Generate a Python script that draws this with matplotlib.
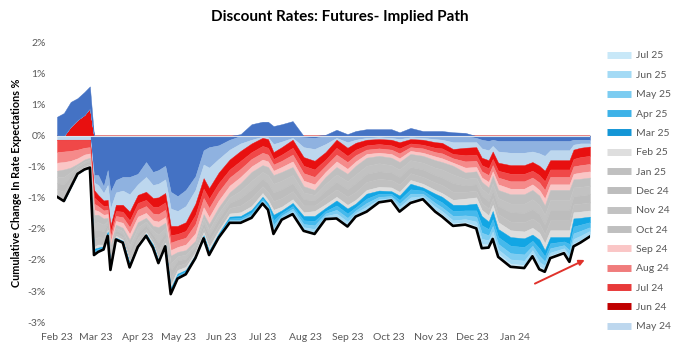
import matplotlib
matplotlib.use("Agg")
import matplotlib.pyplot as plt
import matplotlib.dates as mdates
from matplotlib.lines import Line2D
import numpy as np
import pandas as pd

plt.rcParams['font.family'] = ['Lato', 'DejaVu Sans']

# sample dates (roughly weekly, denser around the sharp moves)
dates = pd.to_datetime([
    "2023-02-01", "2023-02-06", "2023-02-11", "2023-02-16", "2023-02-21", "2023-02-25",
    "2023-02-28", "2023-03-03", "2023-03-07", "2023-03-10", "2023-03-12", "2023-03-16",
    "2023-03-21", "2023-03-26", "2023-04-01", "2023-04-07", "2023-04-12", "2023-04-16",
    "2023-04-21", "2023-04-25", "2023-04-30", "2023-05-06", "2023-05-13", "2023-05-19",
    "2023-05-23", "2023-05-30", "2023-06-07", "2023-06-15", "2023-06-23", "2023-07-01",
    "2023-07-05", "2023-07-09", "2023-07-15", "2023-07-23", "2023-07-31", "2023-08-08",
    "2023-08-16", "2023-08-24", "2023-09-01", "2023-09-07", "2023-09-15", "2023-09-24",
    "2023-10-03", "2023-10-09", "2023-10-17", "2023-10-26", "2023-11-04", "2023-11-09",
    "2023-11-17", "2023-11-26", "2023-12-04", "2023-12-08", "2023-12-13", "2023-12-16",
    "2023-12-20", "2023-12-29", "2024-01-08", "2024-01-14", "2024-01-19", "2024-01-23",
    "2024-01-27", "2024-02-06", "2024-02-10", "2024-02-13", "2024-02-18", "2024-02-25",
])

# change in rate expectations per contract, %
mar_24 = [0.31, 0.37, 0.40, 0.35, 0.37, 0.35, -0.63, -0.63, -0.81, -0.55,
          -0.90, -0.71, -0.66, -0.66, -0.61, -0.42, -0.58, -0.55, -0.48, -0.90,
          -0.97, -0.87, -0.65, -0.23, -0.18, -0.15, -0.06, 0.03, 0.19, 0.23,
          0.23, 0.16, 0.19, 0.24, -0.02, -0.03, 0.02, 0.10, 0.03, 0.08,
          0.11, 0.11, 0.11, 0.06, 0.13, 0.08, 0.08, 0.08, 0.06, 0.05,
          -0.03, -0.06, -0.08, -0.06, -0.08, -0.08, -0.08, -0.08, -0.08, -0.08,
          -0.08, -0.08, -0.08, -0.06, -0.06, -0.06]
apr_24 = [0, 0, 0, 0, 0, 0, -0.12, -0.16, -0.11, -0.24,
          -0.27, -0.20, -0.22, -0.28, -0.17, -0.24, -0.21, -0.22, -0.22, -0.27,
          -0.24, -0.26, -0.22, -0.23, -0.33, -0.22, -0.16, -0.12, -0.06, -0.01,
          -0.02, -0.13, -0.09, -0.03, -0.16, -0.18, -0.13, -0.03, -0.10, -0.06,
          -0.03, -0.02, -0.03, -0.05, -0.02, -0.03, -0.05, -0.06, -0.10, -0.10,
          -0.07, -0.14, -0.15, -0.10, -0.17, -0.19, -0.19, -0.17, -0.20, -0.24,
          -0.15, -0.15, -0.15, -0.08, -0.06, -0.06]
may_24 = [-0.06, -0.06, -0.06, -0.06, -0.06, -0.06, -0.12, -0.16, -0.12, -0.24,
          -0.28, -0.20, -0.23, -0.28, -0.17, -0.24, -0.21, -0.22, -0.22, -0.28,
          -0.24, -0.26, -0.22, -0.22, -0.33, -0.22, -0.16, -0.12, -0.06, -0.02,
          -0.03, -0.13, -0.09, -0.03, -0.16, -0.19, -0.13, -0.03, -0.09, -0.05,
          -0.03, -0.03, -0.03, -0.05, -0.03, -0.03, -0.05, -0.05, -0.11, -0.09,
          -0.08, -0.15, -0.16, -0.09, -0.18, -0.20, -0.20, -0.17, -0.20, -0.24,
          -0.16, -0.16, -0.16, -0.08, -0.07, -0.05]
jun_24 = [0, 0, 0.15, 0.26, 0.34, 0.45, -0.12, -0.10, -0.09, -0.09,
          -0.10, -0.10, -0.11, -0.14, -0.13, -0.13, -0.14, -0.15, -0.15, -0.15,
          -0.13, -0.14, -0.18, -0.17, -0.17, -0.17, -0.16, -0.16, -0.14, -0.13,
          -0.14, -0.11, -0.12, -0.13, -0.14, -0.14, -0.12, -0.13, -0.13, -0.11,
          -0.09, -0.08, -0.09, -0.10, -0.07, -0.08, -0.09, -0.09, -0.08, -0.12,
          -0.12, -0.12, -0.13, -0.12, -0.13, -0.14, -0.14, -0.14, -0.15, -0.17,
          -0.15, -0.15, -0.15, -0.15, -0.15, -0.15]
jul_24 = [-0.20, -0.19, -0.18, -0.16, -0.13, -0.12, -0.10, -0.08, -0.07, -0.07,
          -0.08, -0.08, -0.09, -0.11, -0.11, -0.10, -0.11, -0.12, -0.12, -0.12,
          -0.10, -0.11, -0.15, -0.15, -0.15, -0.14, -0.13, -0.13, -0.11, -0.11,
          -0.11, -0.09, -0.10, -0.11, -0.12, -0.12, -0.10, -0.11, -0.10, -0.09,
          -0.07, -0.07, -0.07, -0.08, -0.06, -0.06, -0.07, -0.08, -0.07, -0.10,
          -0.10, -0.10, -0.11, -0.10, -0.11, -0.12, -0.12, -0.11, -0.12, -0.14,
          -0.12, -0.12, -0.12, -0.12, -0.13, -0.13]
aug_24 = [-0.17, -0.17, -0.16, -0.14, -0.11, -0.10, -0.10, -0.08, -0.07, -0.07,
          -0.08, -0.08, -0.09, -0.11, -0.11, -0.11, -0.11, -0.12, -0.12, -0.12,
          -0.11, -0.11, -0.15, -0.15, -0.15, -0.14, -0.13, -0.13, -0.12, -0.11,
          -0.11, -0.10, -0.10, -0.11, -0.12, -0.12, -0.10, -0.11, -0.11, -0.10,
          -0.07, -0.07, -0.07, -0.08, -0.06, -0.07, -0.07, -0.08, -0.07, -0.10,
          -0.10, -0.10, -0.11, -0.10, -0.11, -0.12, -0.12, -0.11, -0.12, -0.14,
          -0.12, -0.12, -0.12, -0.12, -0.12, -0.12]
sep_24 = [-0.13, -0.12, -0.11, -0.09, -0.08, -0.07, -0.08, -0.06, -0.06, -0.06,
          -0.06, -0.06, -0.08, -0.09, -0.09, -0.08, -0.09, -0.09, -0.09, -0.09,
          -0.08, -0.09, -0.12, -0.11, -0.11, -0.11, -0.11, -0.10, -0.09, -0.09,
          -0.09, -0.07, -0.08, -0.09, -0.09, -0.09, -0.08, -0.09, -0.08, -0.07,
          -0.06, -0.05, -0.06, -0.06, -0.05, -0.05, -0.06, -0.06, -0.05, -0.08,
          -0.07, -0.07, -0.09, -0.07, -0.09, -0.09, -0.09, -0.09, -0.09, -0.11,
          -0.09, -0.09, -0.09, -0.09, -0.10, -0.10]
oct_24 = [-0.10, -0.12, -0.07, -0.03, -0.03, -0.03, -0.13, -0.12, -0.10, -0.05,
          -0.06, -0.05, -0.05, -0.09, -0.08, -0.06, -0.07, -0.12, -0.08, -0.12,
          -0.07, -0.07, -0.05, -0.07, -0.09, -0.09, -0.08, -0.12, -0.14, -0.11,
          -0.13, -0.14, -0.14, -0.13, -0.10, -0.08, -0.11, -0.12, -0.12, -0.14,
          -0.13, -0.12, -0.12, -0.12, -0.10, -0.11, -0.12, -0.12, -0.14, -0.10,
          -0.10, -0.11, -0.11, -0.12, -0.13, -0.15, -0.15, -0.15, -0.15, -0.15,
          -0.16, -0.16, -0.16, -0.13, -0.13, -0.13]
nov_24 = [-0.10, -0.12, -0.07, -0.03, -0.03, -0.03, -0.13, -0.12, -0.11, -0.05,
          -0.07, -0.04, -0.05, -0.09, -0.09, -0.06, -0.07, -0.13, -0.08, -0.12,
          -0.07, -0.07, -0.04, -0.07, -0.09, -0.09, -0.09, -0.12, -0.14, -0.11,
          -0.13, -0.14, -0.14, -0.13, -0.11, -0.09, -0.11, -0.12, -0.13, -0.14,
          -0.13, -0.13, -0.12, -0.12, -0.11, -0.11, -0.12, -0.13, -0.14, -0.11,
          -0.11, -0.11, -0.11, -0.12, -0.13, -0.14, -0.15, -0.16, -0.15, -0.16,
          -0.16, -0.16, -0.16, -0.14, -0.14, -0.14]
dec_24 = [-0.10, -0.12, -0.07, -0.03, -0.03, -0.03, -0.13, -0.12, -0.10, -0.05,
          -0.06, -0.05, -0.05, -0.09, -0.08, -0.06, -0.07, -0.12, -0.08, -0.12,
          -0.08, -0.07, -0.05, -0.08, -0.10, -0.10, -0.08, -0.12, -0.14, -0.12,
          -0.14, -0.14, -0.14, -0.13, -0.10, -0.08, -0.11, -0.12, -0.12, -0.14,
          -0.13, -0.12, -0.12, -0.12, -0.10, -0.12, -0.12, -0.12, -0.14, -0.10,
          -0.10, -0.12, -0.12, -0.12, -0.13, -0.15, -0.15, -0.15, -0.15, -0.15,
          -0.17, -0.17, -0.17, -0.13, -0.13, -0.13]
jan_25 = [-0.10, -0.12, -0.07, -0.03, -0.03, -0.03, -0.13, -0.12, -0.11, -0.04,
          -0.07, -0.04, -0.04, -0.08, -0.09, -0.05, -0.06, -0.13, -0.08, -0.11,
          -0.07, -0.06, -0.04, -0.07, -0.09, -0.09, -0.09, -0.11, -0.13, -0.11,
          -0.13, -0.14, -0.14, -0.13, -0.11, -0.09, -0.11, -0.12, -0.13, -0.13,
          -0.13, -0.13, -0.12, -0.12, -0.11, -0.11, -0.12, -0.13, -0.13, -0.11,
          -0.11, -0.11, -0.11, -0.11, -0.13, -0.14, -0.15, -0.15, -0.15, -0.15,
          -0.16, -0.16, -0.16, -0.13, -0.13, -0.13]
feb_25 = [-0.02, -0.02, -0.02, -0.02, -0.02, -0.02, -0.03, -0.05, -0.03, -0.03,
          -0.05, -0.03, -0.02, -0.03, -0.03, -0.03, -0.03, -0.03, -0.03, -0.05,
          -0.06, -0.05, -0.05, -0.05, -0.06, -0.05, -0.05, -0.06, -0.06, -0.06,
          -0.06, -0.08, -0.06, -0.06, -0.06, -0.08, -0.06, -0.06, -0.06, -0.06,
          -0.06, -0.06, -0.06, -0.06, -0.06, -0.06, -0.06, -0.06, -0.08, -0.10,
          -0.10, -0.10, -0.10, -0.10, -0.11, -0.11, -0.11, -0.11, -0.11, -0.11,
          -0.11, -0.11, -0.11, -0.10, -0.10, -0.10]
mar_25 = [0, -0.01, -0.02, -0.02, -0.02, -0.02, -0.03, -0.02, -0.02, -0.02,
          -0.02, -0.01, -0.01, -0.02, -0.01, -0.01, -0.02, -0.02, -0.01, -0.03,
          -0.02, -0.02, -0.02, -0.02, -0.02, -0.02, -0.03, -0.03, -0.04, -0.03,
          -0.03, -0.09, -0.04, -0.05, -0.07, -0.08, -0.05, -0.08, -0.08, -0.06,
          -0.08, -0.05, -0.04, -0.07, -0.09, -0.05, -0.08, -0.09, -0.10, -0.09,
          -0.11, -0.15, -0.12, -0.13, -0.13, -0.14, -0.14, -0.10, -0.14, -0.10,
          -0.10, -0.07, -0.11, -0.13, -0.11, -0.09]
apr_25 = [0, 0, 0, 0, 0, 0, -0.02, -0.02, -0.01, -0.02,
          -0.02, -0.01, -0.01, -0.02, -0.01, -0.01, -0.01, -0.01, -0.01, -0.02,
          -0.02, -0.02, -0.01, -0.01, -0.02, -0.02, -0.02, -0.03, -0.03, -0.03,
          -0.02, -0.07, -0.04, -0.04, -0.06, -0.07, -0.04, -0.07, -0.07, -0.05,
          -0.07, -0.05, -0.04, -0.06, -0.07, -0.05, -0.07, -0.08, -0.08, -0.08,
          -0.10, -0.12, -0.10, -0.11, -0.11, -0.12, -0.12, -0.08, -0.12, -0.08,
          -0.08, -0.06, -0.10, -0.11, -0.10, -0.08]
may_25 = [0, 0, 0, 0, 0, 0, -0.02, -0.01, -0.01, -0.01,
          -0.02, -0.01, -0.01, -0.01, -0.01, -0.01, -0.01, -0.01, -0.01, -0.02,
          -0.02, -0.01, -0.01, -0.01, -0.01, -0.01, -0.02, -0.02, -0.03, -0.02,
          -0.02, -0.06, -0.03, -0.04, -0.05, -0.06, -0.04, -0.06, -0.06, -0.04,
          -0.06, -0.04, -0.03, -0.05, -0.06, -0.04, -0.06, -0.06, -0.07, -0.06,
          -0.08, -0.10, -0.08, -0.09, -0.09, -0.10, -0.10, -0.07, -0.10, -0.07,
          -0.07, -0.05, -0.08, -0.09, -0.08, -0.06]
jun_25 = [0, 0, 0, 0, 0, 0, -0.02, -0.01, -0.01, -0.01,
          -0.01, 0, 0, -0.01, 0, 0, -0.01, -0.01, 0, -0.02,
          -0.01, -0.01, -0.01, -0.01, -0.01, -0.01, -0.02, -0.02, -0.02, -0.02,
          -0.02, -0.05, -0.02, -0.03, -0.04, -0.05, -0.03, -0.05, -0.05, -0.03,
          -0.05, -0.03, -0.02, -0.04, -0.05, -0.03, -0.05, -0.05, -0.05, -0.05,
          -0.07, -0.08, -0.07, -0.07, -0.07, -0.07, -0.07, -0.06, -0.07, -0.06,
          -0.05, -0.04, -0.07, -0.07, -0.07, -0.05]
jul_25 = [0, 0, 0, 0, 0, 0, -0.01, -0.01, 0, -0.01,
          -0.01, 0, 0, -0.01, 0, 0, 0, 0, 0, -0.01,
          -0.01, -0.01, 0, 0, -0.01, -0.01, -0.01, -0.01, -0.01, -0.01,
          -0.01, -0.04, -0.02, -0.02, -0.02, -0.03, -0.02, -0.03, -0.03, -0.03,
          -0.03, -0.02, -0.02, -0.04, -0.04, -0.02, -0.03, -0.04, -0.04, -0.04,
          -0.04, -0.07, -0.05, -0.05, -0.05, -0.05, -0.05, -0.04, -0.05, -0.04,
          -0.04, -0.04, -0.04, -0.05, -0.04, -0.04]

contracts = ["Mar 24", "Apr 24", "May 24", "Jun 24", "Jul 24", "Aug 24", "Sep 24",
             "Oct 24", "Nov 24", "Dec 24", "Jan 25", "Feb 25",
             "Mar 25", "Apr 25", "May 25", "Jun 25", "Jul 25"]
values = [mar_24, apr_24, may_24, jun_24, jul_24, aug_24, sep_24,
          oct_24, nov_24, dec_24, jan_25, feb_25,
          mar_25, apr_25, may_25, jun_25, jul_25]
colors = ["#4472C4", "#8FB2E0", "#BDD7EE", "#E81010", "#F04848", "#F58A8A", "#FAC6C6",
          "#BFBFBF", "#C2C2C2", "#BDBDBD", "#C0C0C0", "#DEDEDE",
          "#12A6E4", "#45B9EC", "#7CCCF1", "#A3DAF5", "#C8E8F8"]

# legend only lists May 24 onwards, furthest contract first
legend_names = ["Jul 25", "Jun 25", "May 25", "Apr 25", "Mar 25", "Feb 25", "Jan 25",
                "Dec 24", "Nov 24", "Oct 24", "Sep 24", "Aug 24", "Jul 24", "Jun 24", "May 24"]
legend_colors = {"Jun 24": "#C00000", "Jul 24": "#E83A3A", "Aug 24": "#F07C7C",
                 "Mar 25": "#1496D6", "Apr 25": "#3DB2E8"}

month_ticks = pd.date_range("2023-02-01", "2024-01-01", freq="MS")
y_ticks = [1.5, 1.0, 0.5, 0.0, -0.5, -1.0, -1.5, -2.0, -2.5, -3.0]
y_labels = ["2%", "1%", "1%", "0%", "-1%", "-1%", "-2%", "-2%", "-3%", "-3%"]

grey = "#595959"
data = np.array(values, dtype=float)
pos = np.clip(data, 0, None)
neg = np.clip(data, None, 0)

fig = plt.figure(figsize=(6.8, 3.51), dpi=100)
ax = fig.add_axes([0.0838, 0.0826, 0.7838, 0.795])

# negative values stack down from zero, nearest contract first
lower = np.zeros(len(dates))
for vals, c in zip(neg, colors):
    new = lower + vals
    ax.fill_between(dates, lower, new, facecolor=c, edgecolor=c, lw=0.3)
    lower = new
# positive values stack up from zero
upper = np.zeros(len(dates))
for vals, c in zip(pos[::-1], colors[::-1]):
    new = upper + vals
    ax.fill_between(dates, upper, new, facecolor=c, edgecolor=c, lw=0.3)
    upper = new

ax.axhline(0, color="#DCE3EC", lw=0.8, zorder=3)
ax.plot(dates, lower, color="black", lw=1.9, zorder=4)

ax.set_xlim(dates[0], dates[-1])
ax.set_ylim(-3.0, 1.5)
ax.set_yticks(y_ticks)
ax.set_yticklabels(y_labels)
ax.set_xticks(month_ticks)
ax.xaxis.set_major_formatter(mdates.DateFormatter("%b %y"))
ax.tick_params(length=0, labelsize=7.5, labelcolor=grey)
ax.tick_params(axis="y", pad=8)
ax.tick_params(axis="x", pad=8)
for s in ax.spines.values():
    s.set_visible(False)

ax.set_ylabel("Cumulative Change In Rate Expectations %", fontsize=7.8,
              fontweight="bold", color="black", labelpad=4)

fig.suptitle("Discount Rates: Futures- Implied Path", x=0.5, y=0.972,
             fontsize=11, fontweight="bold")

# red arrow pointing up at the recent move
ax.annotate("", xy=(pd.Timestamp("2024-02-23"), -1.98),
            xytext=(pd.Timestamp("2024-01-14"), -2.40),
            arrowprops=dict(arrowstyle="-|>", color="#E0322B", lw=1.4,
                            mutation_scale=8), annotation_clip=False)

handles = []
for name in legend_names:
    c = legend_colors.get(name, colors[contracts.index(name)])
    handles.append(Line2D([], [], color=c, lw=5, solid_capstyle="butt"))
leg = fig.legend(handles, legend_names, loc="upper left",
                 bbox_to_anchor=(0.887, 0.866), frameon=False, fontsize=7.5,
                 handlelength=2.3, labelspacing=0.965, handletextpad=0.5,
                 borderaxespad=0)
for t in leg.get_texts():
    t.set_color(grey)

fig.savefig("out.png", dpi=100)
